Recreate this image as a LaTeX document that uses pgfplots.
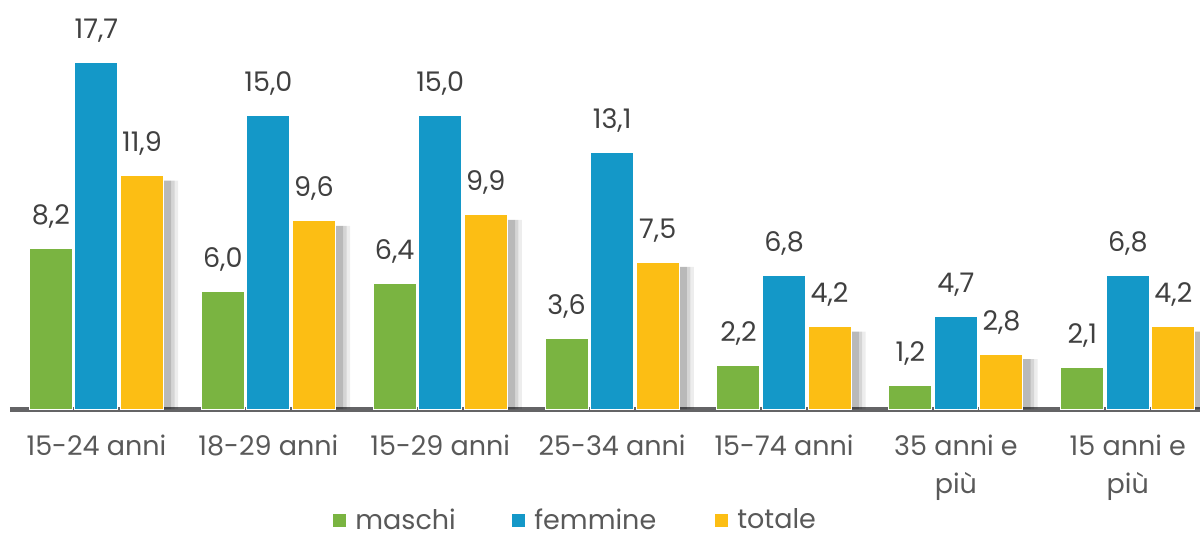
\documentclass[border=0pt]{standalone}
\usepackage{pgfplots}
\pgfplotsset{compat=1.18}
\usepackage{fontspec}
\setmainfont{Poppins}
\definecolor{cgreen}{RGB}{122,180,65}
\definecolor{cblue}{RGB}{20,152,200}
\definecolor{cyellow}{RGB}{252,190,20}
\definecolor{ctext}{RGB}{89,89,89}
\definecolor{clabel}{RGB}{64,64,64}
\definecolor{caxis}{RGB}{100,100,102}
\pgfplotsset{valuelabels/.style={nodes near coords={\pgfmathprintnumber[use comma,fixed,fixed zerofill,precision=1,assume math mode=true]{\pgfplotspointmeta}},
  every node near coord/.append style={anchor=base, yshift=12pt, text=clabel}}}
\begin{document}
\begin{tikzpicture}[font=\fontsize{13.5}{19}\selectfont]
\path[use as bounding box] (0,0) rectangle (600pt,268pt);
\clip (0,0) rectangle (600pt,268pt);
\begin{axis}[
  at={(5pt,63.5pt)}, anchor=south west,
  scale only axis, width=595pt, height=204.5pt,
  xmin=-0.503, xmax=6.42, ymin=0, ymax=20.87,
  axis y line=none, axis x line=bottom,
  x axis line style={line width=2.5pt, draw=caxis, -},
  xtick={0,...,6},
  xticklabels={15-24 anni, 18-29 anni, 15-29 anni, 25-34 anni, 15-74 anni, {35 anni e\\più}, {15 anni e\\più}},
  major tick length=0pt,
  xticklabel style={align=center, text=ctext, yshift=-9.5pt},
  ybar, bar width=0.25,
  clip=false,
  legend columns=-1,
  legend style={at={(rel axis cs:0.2714,-0.272)}, anchor=west, draw=none, fill=none, inner sep=0pt,
    nodes={inner sep=0pt, text=ctext}},
]
\addplot[bar shift=-0.265, fill=cgreen, draw=white, line width=0.5pt, valuelabels,
  legend image code/.code={\fill[cgreen] (0pt,-3pt) rectangle (6pt,3pt);}]
  coordinates {(0,8.2) (1,6.0) (2,6.4) (3,3.6) (4,2.2) (5,1.2) (6,2.1)};
\addlegendentry{\hspace{4.5pt}\makebox[78.5pt][l]{maschi}}
\addplot[bar shift=0, fill=cblue, draw=white, line width=0.5pt, valuelabels,
  legend image code/.code={\fill[cblue] (0pt,-3pt) rectangle (6pt,3pt);}]
  coordinates {(0,17.7) (1,15.0) (2,15.0) (3,13.1) (4,6.8) (5,4.7) (6,6.8)};
\addlegendentry{\hspace{4.5pt}\makebox[90.5pt][l]{femmine}}
% soft shadow to the right of the totale bars
\addplot[forget plot, bar shift=0.35, fill=black, opacity=0.07, draw=none]
  coordinates {(0,11.65) (1,9.35) (2,9.65) (3,7.25) (4,3.95) (5,2.55) (6,3.95)};
\addplot[forget plot, bar shift=0.33, fill=black, opacity=0.10, draw=none]
  coordinates {(0,11.65) (1,9.35) (2,9.65) (3,7.25) (4,3.95) (5,2.55) (6,3.95)};
\addplot[forget plot, bar shift=0.31, fill=black, opacity=0.13, draw=none]
  coordinates {(0,11.65) (1,9.35) (2,9.65) (3,7.25) (4,3.95) (5,2.55) (6,3.95)};
\addplot[bar shift=0.265, fill=cyellow, draw=white, line width=0.5pt, valuelabels,
  legend image code/.code={\fill[cyellow] (0pt,-3pt) rectangle (6pt,3pt);}]
  coordinates {(0,11.9) (1,9.6) (2,9.9) (3,7.5) (4,4.2) (5,2.8) (6,4.2)};
\addlegendentry{\hspace{4.5pt}totale}
\end{axis}
\end{tikzpicture}
\end{document}
